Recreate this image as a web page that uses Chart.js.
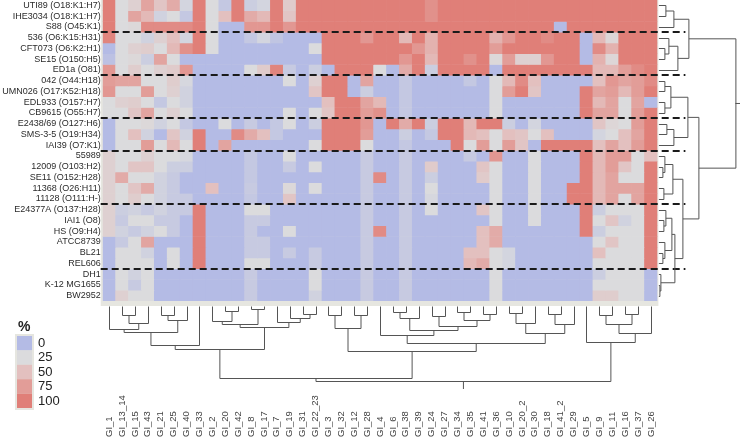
<!DOCTYPE html>
<html lang="en">

<head>
    <meta charset="UTF-8">
    <title>Genomic islands heatmap</title>
    <style>
        body { margin: 0; background: #fff; }
        #chart-container { width: 740px; height: 439px; }
    </style>
</head>

<body>
    <div id="chart-container">
        <canvas id="myChart"></canvas>
    </div>

    <script src="https://cdn.jsdelivr.net/npm/chart.js"></script>

    <script>
        const strains = ['UTI89 (O18:K1:H7)', 'IHE3034 (O18:K1:H7)', 'S88 (O45:K1)', '536 (O6:K15:H31)', 'CFT073 (O6:K2:H1)',
            'SE15 (O150:H5)', 'ED1a (O81)', '042 (O44:H18)', 'UMN026 (O17:K52:H18)', 'EDL933 (O157:H7)', 'CB9615 (O55:H7)',
            'E2438/69 (O127:H6)', 'SMS-3-5 (O19:H34)', 'IAI39 (O7:K1)', '55989', '12009 (O103:H2)', 'SE11 (O152:H28)',
            '11368 (O26:H11)', '11128 (O111:H-)', 'E24377A (O137:H28)', 'IAI1 (O8)', 'HS (O9:H4)', 'ATCC8739', 'BL21',
            'REL606', 'DH1', 'K-12 MG1655', 'BW2952']

        const islands = ['GI_1', 'GI_13_14', 'GI_15', 'GI_43', 'GI_21', 'GI_25', 'GI_40', 'GI_33', 'GI_2', 'GI_20', 'GI_42',
            'GI_8', 'GI_17', 'GI_7', 'GI_19', 'GI_31', 'GI_22_23', 'GI_3', 'GI_32', 'GI_12', 'GI_28', 'GI_4', 'GI_6', 'GI_38',
            'GI_39', 'GI_24', 'GI_27', 'GI_34', 'GI_35', 'GI_41', 'GI_36', 'GI_10', 'GI_20_2', 'GI_30', 'GI_18', 'GI_41_2',
            'GI_29', 'GI_5', 'GI_9', 'GI_11', 'GI_16', 'GI_37', 'GI_26']

        // % presence, one row per strain, columns in the order of islands
        const pct = [
            [100,25,35,70,45,65,20,100,25,10,100,15,20,100,40,100,100,100,100,100,100,100,100,100,100,85,100,100,100,100,100,100,100,100,100,100,100,100,100,100,100,100,100],
            [100,25,70,55,18,25,10,100,25,50,100,65,55,100,45,100,100,100,100,100,100,100,100,100,100,85,100,100,100,100,100,100,100,100,100,100,100,100,100,100,100,100,100],
            [100,25,28,90,90,90,90,100,25,0,0,80,80,100,80,100,100,100,100,100,100,100,100,100,100,100,100,100,100,100,100,100,100,100,100,0,100,100,100,100,100,100,100],
            [95,25,25,18,35,50,20,100,25,0,0,10,20,8,0,0,0,100,100,100,80,100,100,55,100,60,100,100,100,100,60,80,100,100,90,100,100,0,55,30,100,100,100],
            [0,25,35,38,25,55,85,100,25,0,0,0,0,0,0,0,25,100,100,100,100,100,100,100,80,60,100,100,100,100,75,100,100,100,100,100,100,0,90,60,100,100,100],
            [5,25,28,15,70,25,0,0,0,0,0,0,0,0,0,0,0,100,100,100,100,100,100,80,100,55,100,100,85,100,28,75,35,35,80,100,100,0,60,30,100,100,100],
            [80,25,38,25,35,40,80,0,0,0,0,25,40,95,12,0,15,0,100,100,100,25,0,65,100,15,100,100,100,100,0,100,100,100,100,100,100,100,55,55,75,90,100],
            [75,70,70,25,25,38,22,0,0,0,0,0,0,0,25,0,35,100,100,0,70,0,0,10,0,0,0,0,10,0,25,55,90,50,0,0,0,0,50,80,70,75,90],
            [80,25,25,75,25,35,18,0,0,0,0,0,0,0,0,0,45,100,100,0,15,0,0,10,0,0,0,0,0,0,25,75,100,45,0,0,0,100,70,75,55,75,100],
            [25,35,38,25,10,25,18,0,0,0,0,0,0,0,0,0,0,50,100,100,70,55,0,10,0,0,0,0,0,0,25,0,0,0,0,0,0,100,55,70,25,70,0],
            [25,25,45,70,25,35,25,0,0,0,0,0,0,0,25,0,25,45,100,100,75,85,0,10,0,0,0,0,0,0,25,0,0,0,0,0,0,100,70,70,25,75,100],
            [0,25,25,28,18,25,10,0,0,25,0,12,0,10,25,0,15,100,100,100,80,0,100,65,100,15,100,100,55,100,100,15,0,20,0,0,0,0,45,30,25,75,100],
            [0,25,50,18,0,45,18,100,0,0,90,65,50,10,0,0,0,100,100,100,75,0,0,15,0,10,100,100,55,50,25,50,45,25,50,0,0,0,20,25,50,70,100],
            [0,25,25,75,25,55,25,100,0,70,0,0,0,0,0,0,25,100,100,100,25,0,0,10,0,0,0,100,25,75,25,75,45,0,100,100,100,100,50,70,50,75,100],
            [35,25,25,35,25,25,22,0,0,0,0,10,0,0,25,0,0,0,0,0,12,0,0,12,0,0,0,0,12,0,80,0,0,25,0,0,0,100,55,75,75,25,50],
            [35,25,45,45,25,15,15,0,0,0,0,10,0,0,12,0,25,0,0,0,12,0,0,12,0,40,0,0,0,45,25,0,0,25,0,0,0,100,55,75,45,25,100],
            [35,65,25,25,18,12,0,0,0,0,0,10,0,0,0,0,0,0,0,0,12,90,0,12,0,15,0,0,0,40,25,0,0,25,0,0,0,100,55,70,25,25,100],
            [35,25,45,65,18,12,0,0,50,0,0,12,0,0,28,0,25,0,0,0,12,0,0,12,0,25,0,0,0,0,25,0,0,25,0,0,100,100,55,70,70,70,100],
            [35,25,38,25,18,12,12,0,0,0,0,10,0,0,45,0,0,0,0,0,12,0,0,12,0,22,0,0,0,0,25,0,0,25,0,0,100,100,55,70,25,70,100],
            [35,15,18,12,18,12,12,100,0,0,0,25,25,0,0,0,0,0,0,0,12,0,0,12,0,25,0,0,0,45,25,0,0,25,0,0,0,100,15,25,25,25,100],
            [35,12,25,25,12,12,0,100,0,0,0,12,12,0,0,0,0,0,0,0,12,0,0,12,0,0,0,0,0,0,25,0,0,25,0,0,0,100,25,45,18,25,100],
            [35,18,12,18,25,12,0,100,0,0,0,12,0,0,25,0,0,0,0,0,12,90,0,12,0,0,0,0,0,50,65,0,0,0,0,0,0,100,15,25,25,25,100],
            [0,12,25,70,0,0,0,100,0,0,0,12,12,0,0,0,0,0,0,0,12,0,0,12,0,0,0,0,0,50,65,0,0,0,0,0,0,0,25,45,25,25,100],
            [0,25,25,18,0,25,0,100,0,0,0,12,12,0,12,0,12,0,0,0,12,0,0,12,0,0,0,0,50,50,25,20,0,0,0,0,0,0,50,25,25,25,100],
            [0,25,25,25,0,25,0,100,0,0,0,25,25,0,0,0,12,0,0,0,12,0,0,12,0,0,0,0,55,65,25,20,0,0,0,0,0,0,25,25,25,25,100],
            [0,25,18,25,0,0,0,0,0,0,0,12,0,0,0,0,25,0,0,0,12,0,0,12,0,0,0,0,0,0,25,0,0,0,0,0,0,0,15,25,25,25,0],
            [0,25,12,25,0,0,0,0,0,0,0,12,0,0,0,0,25,0,0,0,12,0,0,12,0,0,0,0,0,0,25,0,0,0,0,0,0,0,25,25,25,25,0],
            [0,35,25,25,0,0,0,0,0,0,0,12,0,0,0,0,18,0,0,0,12,0,0,12,0,0,0,0,0,0,25,0,0,0,0,0,0,0,38,38,25,25,0]
        ]

        const legendTicks = [0, 25, 50, 75, 100]
        const groupBreaks = [3, 7, 11, 14, 19, 25]

        // dendrograms: [height, left, right], numbers are leaf indexes
        const colTree = [75,
            [72,
                [43,
                    [39, [26, [23, 0, [17, [9, 1, 2], 3]], [14, [9, 4, 5], 6]], 7],
                    [21, [18, [15, 8, [5, 9, 10]], [3, 11, 12]], [16, 13, [12, 14, [8, 15, 16]]]]],
                [45,
                    [22, [9, 17, 18], [9, 19, 20]],
                    [37,
                        [29, 21, [24, [12, [6, 22, 23], 24], [20, [10, 25, 26], [14, [6, 27, 28], [8, 29, 30]]]]],
                        [27, [17, [7, 31, 32], 33], [18, [8, 34, 35], 36]]]]],
            [36, 37, [27, [18, [9, 38, 39], [8, 40, 41]], 42]]]

        const rowTree = [77,
            [30, [15, [7, 0, 1], 2], [19, [10, 3, [6, 4, 5]], 6]],
            [40,
                [29, [12, [6, 7, 8], [6, 9, 10]], [15, [8, 11, 12], 13]],
                [24,
                    [14, [6, 14, [4, 15, 16]], [5, 17, 18]],
                    [16, [13, [7, 19, [5, 20, 21]], [6, 22, [4, 23, 24]]], [2, 25, [1, 26, 27]]]]]]

        const stops = [[0, [180, 187, 229]], [25, [219, 219, 221]], [50, [227, 192, 191]], [75, [226, 157, 152]], [100, [224, 127, 120]]]

        function heatColor(v) {
            for (let i = 1; i < stops.length; i++) {
                if (v <= stops[i][0]) {
                    const a = stops[i - 1], b = stops[i]
                    const t = (v - a[0]) / (b[0] - a[0])
                    const c = a[1].map((x, k) => Math.round(x + (b[1][k] - x) * t))
                    return 'rgb(' + c.join(',') + ')'
                }
            }
            return 'rgb(' + stops[stops.length - 1][1].join(',') + ')'
        }

        function drawTree(ctx, node, leafPos, toPx, vertical) {
            if (typeof node === 'number') return { c: leafPos(node), h: 0 }
            const l = drawTree(ctx, node[1], leafPos, toPx, vertical)
            const r = drawTree(ctx, node[2], leafPos, toPx, vertical)
            const h = toPx(node[0])
            ctx.beginPath()
            if (vertical) {
                ctx.moveTo(l.c, toPx(l.h)); ctx.lineTo(l.c, h); ctx.lineTo(r.c, h); ctx.lineTo(r.c, toPx(r.h))
            } else {
                ctx.moveTo(toPx(l.h), l.c); ctx.lineTo(h, l.c); ctx.lineTo(h, r.c); ctx.lineTo(toPx(r.h), r.c)
            }
            ctx.stroke()
            return { c: (l.c + r.c) / 2, h: node[0] }
        }

        const extras = {
            id: 'extras',
            beforeDatasetsDraw(chart) {
                const ctx = chart.ctx, a = chart.chartArea
                ctx.save()
                ctx.fillStyle = '#e6e6e0'
                ctx.fillRect(a.left - 2, a.top, a.right - a.left + 3, a.bottom - a.top + 5)
                ctx.restore()
            },
            afterDatasetsDraw(chart) {
                const ctx = chart.ctx, a = chart.chartArea
                const x = chart.scales.x, y = chart.scales.y
                ctx.save()

                // group separators
                ctx.strokeStyle = '#1a1a1a'
                ctx.lineWidth = 2
                ctx.setLineDash([7, 4])
                groupBreaks.forEach(b => {
                    const py = Math.round(y.getPixelForValue(b))
                    ctx.beginPath(); ctx.moveTo(a.left - 2, py); ctx.lineTo(a.right + 28, py); ctx.stroke()
                })
                ctx.setLineDash([])

                // dendrograms
                ctx.strokeStyle = '#555'
                ctx.lineWidth = 1
                const colBase = a.bottom + 5
                const top = drawTree(ctx, colTree, i => Math.round(x.getPixelForValue(i)) + 0.5, h => colBase + h + 0.5, true)
                ctx.beginPath(); ctx.moveTo(top.c, colBase + top.h); ctx.lineTo(top.c, colBase + top.h + 8); ctx.stroke()
                const rowBase = a.right + 1
                const side = drawTree(ctx, rowTree, i => Math.round(y.getPixelForValue(i + 0.5)) + 0.5, h => rowBase + h + 0.5, false)
                ctx.beginPath(); ctx.moveTo(rowBase + side.h, side.c); ctx.lineTo(rowBase + side.h + 5, side.c); ctx.stroke()

                // island labels, vertical
                ctx.fillStyle = '#444'
                ctx.font = '9.5px "Liberation Sans", Arial, sans-serif'
                ctx.textAlign = 'left'
                ctx.textBaseline = 'middle'
                islands.forEach((lab, i) => {
                    ctx.save()
                    ctx.translate(x.getPixelForValue(i), 437)
                    ctx.rotate(-Math.PI / 2)
                    ctx.fillText(lab, 0, 0)
                    ctx.restore()
                })

                // colour key
                ctx.fillStyle = '#e6e6e0'
                ctx.fillRect(15, 334, 19, 76)
                legendTicks.forEach((v, i) => {
                    ctx.fillStyle = heatColor(v)
                    ctx.fillRect(17, 336 + i * 14.4, 15, 14.4)
                    ctx.fillStyle = '#222'
                    ctx.font = '13px "Liberation Sans", Arial, sans-serif'
                    ctx.fillText(String(v), 38, 343.5 + i * 14.4)
                })
                ctx.font = 'bold 14px "Liberation Sans", Arial, sans-serif'
                ctx.fillText('%', 18, 327)
                ctx.restore()
            }
        }

        const ctx = document.getElementById('myChart')
        const myChart = new Chart(ctx, {
            type: 'bar',
            data: {
                labels: islands,
                datasets: strains.map((s, r) => ({
                    label: s,
                    data: islands.map(() => 1),
                    backgroundColor: pct[r].map(heatColor),
                    borderWidth: 0,
                    barPercentage: 1,
                    categoryPercentage: 1
                }))
            },
            options: {
                responsive: true,
                maintainAspectRatio: false,
                animation: false,
                layout: { padding: { left: 0, right: 82.6, top: 0, bottom: 138 } },
                plugins: { legend: { display: false }, tooltip: { enabled: false } },
                scales: {
                    x: { stacked: true, display: false },
                    y: {
                        stacked: true,
                        reverse: true,
                        min: 0,
                        max: strains.length,
                        grid: { display: false, drawTicks: false },
                        border: { display: false },
                        afterBuildTicks: s => { s.ticks = strains.map((n, i) => ({ value: i + 0.5 })) },
                        afterFit: s => { s.width = 102.7; s.paddingTop = 0; s.paddingBottom = 0 },
                        ticks: {
                            autoSkip: false,
                            padding: 2,
                            color: '#2b2b2b',
                            font: { family: '"Liberation Sans", Arial, sans-serif', size: 9 },
                            callback: (v) => strains[Math.floor(v)]
                        }
                    }
                }
            },
            plugins: [extras]
        });
    </script>
</body>

</html>
